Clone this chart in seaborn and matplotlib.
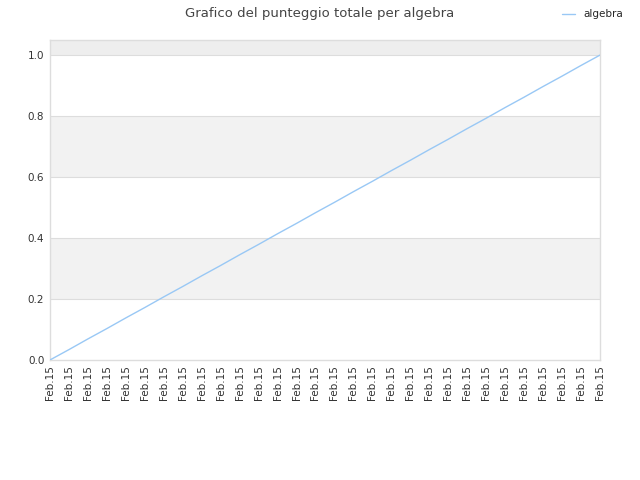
import pandas as pd
import numpy as np
import seaborn as sns
import matplotlib
matplotlib.use("Agg")
import matplotlib.pyplot as plt

# values
date_labels = ["Feb.15"] * 30
algebra_scores = [0.000, 0.034, 0.069, 0.103, 0.138, 0.172, 0.207, 0.241, 0.276, 0.310,
                  0.345, 0.379, 0.414, 0.448, 0.483, 0.517, 0.552, 0.586, 0.621, 0.655,
                  0.690, 0.724, 0.759, 0.793, 0.828, 0.862, 0.897, 0.931, 0.966, 1.000]
y_ticks = [0.0, 0.2, 0.4, 0.6, 0.8, 1.0]

df = pd.DataFrame({"idx": range(len(algebra_scores)), "score": algebra_scores})

sns.set_style("white")
plt.rcParams['font.family'] = ['DejaVu Sans']

fig = plt.figure(figsize=(6.4, 4.8), dpi=100)
ax = fig.add_axes([0.078, 0.25, 0.8595, 0.667])

# alternating bands
ax.axhspan(1.0, 1.05, color="#eeeeee", zorder=0, lw=0)
ax.axhspan(0.6, 0.8, color="#f2f2f2", zorder=0, lw=0)
ax.axhspan(0.2, 0.4, color="#f2f2f2", zorder=0, lw=0)
for t in y_ticks[1:]:
    ax.axhline(t, color="#dddddd", lw=0.8, zorder=1)

sns.lineplot(data=df, x="idx", y="score", ax=ax, color="#99c8f5", lw=1.0,
             label="algebra", legend=False, zorder=3)

ax.set_xlim(0, len(algebra_scores) - 1)
ax.set_ylim(0, 1.05)
ax.set_yticks(y_ticks)
ax.set_yticklabels([f"{t:.1f}" for t in y_ticks])
ax.set_xticks(range(len(date_labels)))
ax.set_xticklabels(date_labels, rotation=90)
ax.tick_params(axis="both", labelsize=7.5, colors="#333333", length=0, pad=4)
ax.set_xlabel("")
ax.set_ylabel("")
for s in ax.spines.values():
    s.set_color("#dddddd")
    s.set_linewidth(1)

fig.suptitle("Grafico del punteggio totale per algebra", y=0.985, fontsize=9.5, color="#444444")
fig.legend(handles=ax.get_lines()[-1:], labels=["algebra"], loc="upper right",
           bbox_to_anchor=(0.988, 1.0), frameon=False, fontsize=7.5, handlelength=1.2)

fig.savefig("out.png", dpi=100)
